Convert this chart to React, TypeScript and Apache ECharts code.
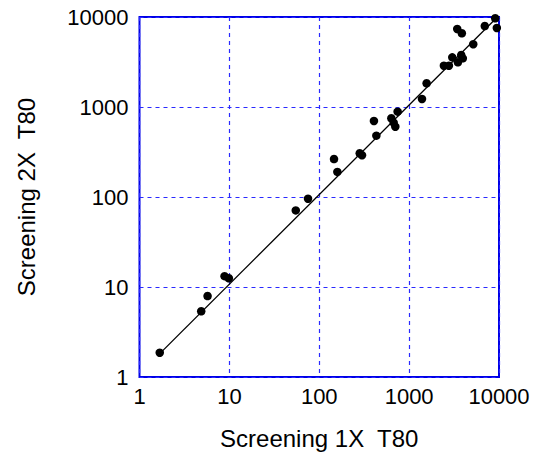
import React, { useEffect, useRef } from "react";
import * as echarts from "echarts";

const xValues = [9076, 9460, 6950, 3430, 3860, 5170, 3020, 3490, 3960, 3800, 2437, 2770, 1565, 1390, 745, 634, 702, 673, 406, 432, 282, 299, 146, 159, 75, 54.8, 8.84, 9.87, 5.72, 4.86, 1.68];
const yValues = [9680, 7550, 7940, 7360, 6590, 4980, 3565, 3140, 3475, 3780, 2876, 2876, 1834, 1228, 887, 749, 604, 670, 699, 480, 306, 291, 264, 190, 95.7, 71, 13.2, 12.5, 7.94, 5.37, 1.86];
const fitX = [1.68, 9300];
const fitY = [1.82, 9700];
const axisTicks = [1, 10, 100, 1000, 10000];

export default function App() {
  const ref = useRef<HTMLDivElement>(null);
  useEffect(() => {
    if (!ref.current) return;
    const chart = echarts.init(ref.current, null, { renderer: "svg" });
    const frameBlue = "#0000e6";
    const gridBlue = "#2a2aff";
    const font = "'Liberation Sans', Arial, sans-serif";
    const makeAxis = (name: string, nameGap: number, margin: number) => ({
      type: "log" as const,
      logBase: 10,
      min: axisTicks[0],
      max: axisTicks[axisTicks.length - 1],
      name,
      nameGap,
      nameLocation: "middle" as const,
      nameTextStyle: { fontFamily: font, fontSize: 24, color: "#000" },
      axisLine: { show: false },
      axisTick: { show: false },
      minorTick: { show: false },
      minorSplitLine: { show: false },
      splitLine: {
        show: true,
        lineStyle: { color: [gridBlue], type: [4, 4], width: 1.2, opacity: 1 },
      },
      axisLabel: {
        fontFamily: font,
        fontSize: 22,
        color: "#000",
        margin,
        formatter: (v: number) => String(Math.round(v)),
      },
    });
    chart.setOption({
      animation: false,
      backgroundColor: "#fff",
      grid: {
        left: 139.5,
        right: 42,
        top: 17,
        bottom: 81,
        show: true,
        borderColor: frameBlue,
        borderWidth: 2,
        containLabel: false,
      },
      xAxis: makeAxis("Screening 1X  T80", 49, 8),
      yAxis: makeAxis("Screening 2X  T80", 101, 11),
      series: [
        {
          type: "line",
          data: fitX.map((x, i) => [x, fitY[i]]),
          showSymbol: false,
          symbol: "none",
          lineStyle: { color: "#000", width: 1.3 },
          z: 3,
        },
        {
          type: "scatter",
          data: xValues.map((x, i) => [x, yValues[i]]),
          symbol: "circle",
          symbolSize: 8.5,
          itemStyle: { color: "#000", opacity: 1 },
          z: 4,
        },
      ],
    });
    return () => chart.dispose();
  }, []);
  return <div ref={ref} style={{ width: 541, height: 458, position: "absolute", left: 0, top: 0 }} />;
}
